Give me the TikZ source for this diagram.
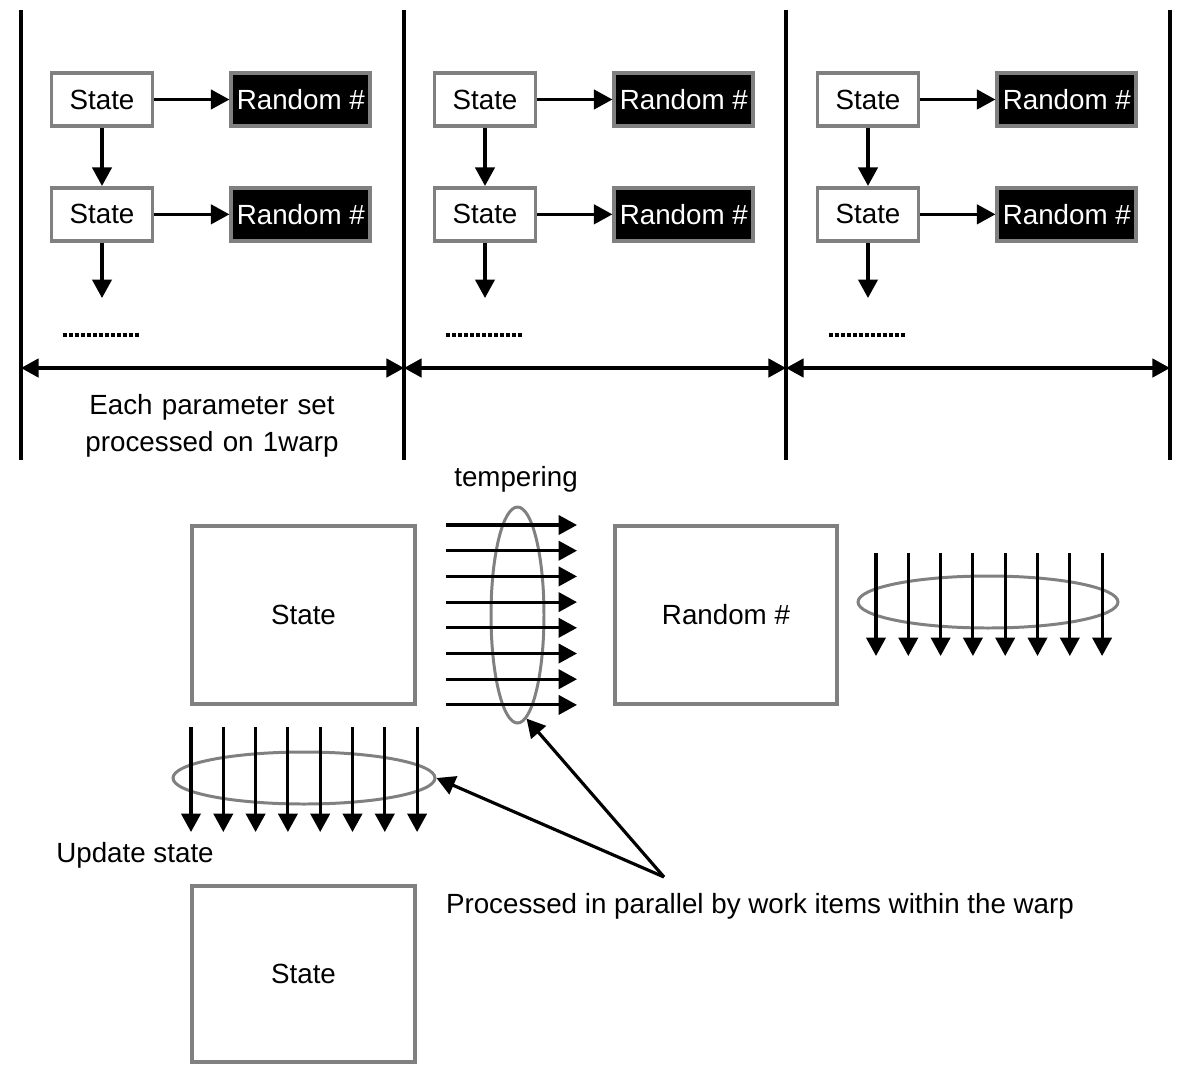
\documentclass[tikz,border=0pt]{standalone}
\usepackage{fontspec}
\setmainfont{Liberation Sans}
\usepackage{xcolor}
\usepackage{tikz}
\usetikzlibrary{arrows.meta}
\usetikzlibrary{positioning}
\usetikzlibrary{shapes.geometric}
\tikzstyle{arrow} = [line width=1.8pt,-{Triangle[length=10.5pt,width=11pt]}]
\tikzstyle{dblarrow} = [line width=1.8pt,{Triangle[length=10pt,width=10.5pt]}-{Triangle[length=10pt,width=10.5pt]}]
\tikzstyle{statebox} = [draw=gray, line width=2.2pt, fill=white, text centered]
\tikzstyle{randbox} = [draw=gray, line width=2.2pt, fill=black, text=white, text centered, inner sep=1pt]
\tikzstyle{warpring} = [draw=gray, line width=1.7pt, ellipse, inner sep=0pt]
\tikzstyle{dots} = [line width=2.3pt, dash pattern=on 2.3pt off 1.1pt]

\begin{document}
\begin{tikzpicture}[x=0.02cm, y=-0.02cm, font=\fontsize{15.8}{21}\selectfont]
  \useasboundingbox (0,0) rectangle (1200,1086);
  \foreach \x in {21,404,786,1170} \draw[line width=2pt] (\x,10) -- (\x,460);
  \foreach \i in {0,1,2} {
    \node[statebox, minimum width=2.02cm, minimum height=1.06cm] (sa\i) at (102+383*\i,99.5) {State};
    \node[statebox, minimum width=2.02cm, minimum height=1.06cm, below=1.16cm of sa\i] (sb\i) {State};
    \node[randbox, minimum width=2.78cm, minimum height=1.06cm, right=1.5cm of sa\i] (ra\i) {Random \#};
    \node[randbox, minimum width=2.78cm, minimum height=1.06cm, right=1.5cm of sb\i] (rb\i) {Random \#};
    \coordinate (down\i) at (102+383*\i,298);
    \draw[arrow] (sa\i) -- (ra\i);
    \draw[arrow] (sb\i) -- (rb\i);
    \draw[arrow] (sa\i) -- (sb\i);
    \draw[arrow] (sb\i) -- (down\i);
    \draw[dots] (63+383*\i,335) -- (140+383*\i,335);
  }
  \coordinate (p0) at (21,368);
  \coordinate (p1) at (404,368);
  \coordinate (p2) at (786,368);
  \coordinate (p3) at (1170,368);
  \draw[dblarrow] (p0) -- (p1);
  \draw[dblarrow] (p1) -- (p2);
  \draw[dblarrow] (p2) -- (p3);
  \node[text width=7cm, align=center] (eachset) at (212,426) {Each parameter set\\processed on 1warp};

  \node[statebox, minimum width=4.46cm, minimum height=3.56cm] (bigstate) at (303.5,615) {State};
  \node[statebox, minimum width=4.44cm, minimum height=3.56cm] (bigrand) at (726,615) {Random \#};
  \node[statebox, minimum width=4.46cm, minimum height=3.52cm] (newstate) at (303.5,974) {State};
  \node[warpring, minimum width=1.06cm, minimum height=4.32cm] (ringt) at (517.5,615) {};
  \node[warpring, minimum width=5.2cm, minimum height=1.04cm] (ringr) at (988,602) {};
  \node[warpring, minimum width=5.24cm, minimum height=1.04cm] (ringu) at (304,778) {};
  \foreach \k in {0,...,7} {
    \draw[arrow] (446,525+25.7*\k) -- (577,525+25.7*\k);
    \draw[arrow] (876+32.3*\k,553) -- (876+32.3*\k,656);
    \draw[arrow] (191+32.3*\k,727) -- (191+32.3*\k,832);
  }
  \node (temper) at (516,479) {tempering};
  \node (update) at (135,855) {Update state};
  \node (note) at (760,906) {Processed in parallel by work items within the warp};
  \coordinate (fork) at (664,877);
  \draw[arrow] (fork) -- (ringt.-85);
  \draw[arrow] (fork) -- (ringu.east);
\end{tikzpicture}
\end{document}
